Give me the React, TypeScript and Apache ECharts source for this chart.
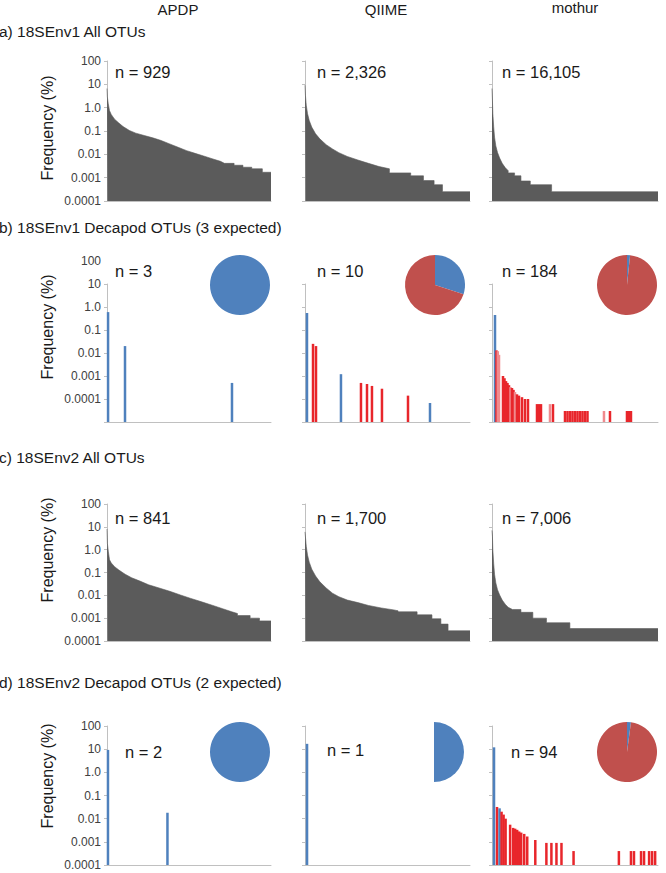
import { useEffect, useRef } from 'react';
import * as echarts from 'echarts';

// ---------------- data ----------------
const columnTitles = ['APDP', 'QIIME', 'mothur'];
const panelTitles = [
  'a) 18SEnv1 All OTUs',
  'b) 18SEnv1 Decapod OTUs (3 expected)',
  'c) 18SEnv2 All OTUs',
  'd) 18SEnv2 Decapod OTUs (2 expected)',
];
const yAxisTitle = 'Frequency (%)';
// tick labels for exponents -4 .. 2
const yTickLabels = ['0.0001', '0.001', '0.01', '0.1', '1.0', '10', '100'];

// total OTUs per pipeline (x extent = OTU rank)
const env1Totals = [929, 2326, 16105];
const env2Totals = [841, 1700, 7006];
// decapod OTU counts
const env1DecapodCounts = [3, 10, 184];
const env2DecapodCounts = [2, 1, 94];

// a) 18SEnv1 all OTUs, rank-abundance (rank, frequency %)
const aApdpRank = [0, 2, 7, 14, 24, 43, 67, 91, 127, 163, 211, 259, 307, 355, 403, 451, 499, 547, 595, 643, 665, 720, 720, 770, 770, 820, 820, 880, 880, 929];
const aApdpFreq = [6.6, 2.9, 1.5, 0.76, 0.51, 0.32, 0.22, 0.155, 0.105, 0.081, 0.064, 0.051, 0.039, 0.028, 0.02, 0.0144, 0.011, 0.0085, 0.0065, 0.005, 0.0041, 0.0041, 0.0034, 0.0034, 0.0028, 0.0028, 0.0024, 0.0024, 0.0017, 0.0017];
const aQiimeRank = [0, 6, 18, 36, 60, 95, 149, 209, 298, 388, 477, 596, 745, 895, 1044, 1190, 1190, 1490, 1490, 1670, 1670, 1820, 1820, 1938, 1938, 2326];
const aQiimeFreq = [9.2, 3.4, 1.26, 0.55, 0.28, 0.147, 0.076, 0.046, 0.026, 0.017, 0.0118, 0.0081, 0.0057, 0.0041, 0.003, 0.0024, 0.0016, 0.0016, 0.0012, 0.0012, 0.00075, 0.00075, 0.0005, 0.0005, 0.00025, 0.00025];
const aMothurRank = [0, 41, 83, 165, 248, 372, 537, 743, 991, 1280, 1569, 1569, 2189, 2189, 2808, 2808, 3717, 3717, 5782, 5782, 16105];
const aMothurFreq = [6.6, 2.1, 0.55, 0.15, 0.054, 0.023, 0.012, 0.0069, 0.0041, 0.0027, 0.002, 0.0016, 0.0016, 0.0012, 0.0012, 0.00072, 0.00072, 0.0005, 0.0005, 0.00025, 0.00025];

// c) 18SEnv2 all OTUs
const cApdpRank = [0, 2, 7, 13, 22, 39, 61, 93, 126, 169, 213, 267, 322, 376, 430, 485, 539, 593, 640, 669, 669, 734, 734, 782, 782, 841];
const cApdpFreq = [8, 1.9, 0.81, 0.36, 0.26, 0.18, 0.128, 0.084, 0.059, 0.042, 0.029, 0.021, 0.015, 0.0104, 0.0073, 0.0052, 0.0037, 0.0026, 0.0019, 0.0016, 0.0013, 0.0013, 0.001, 0.001, 0.00076, 0.00076];
const cQiimeRank = [0, 4, 13, 26, 44, 70, 109, 153, 218, 283, 349, 436, 545, 654, 785, 916, 959, 959, 1155, 1155, 1308, 1308, 1400, 1400, 1474, 1474, 1700];
const cQiimeFreq = [6, 3.9, 1.4, 0.58, 0.28, 0.14, 0.07, 0.039, 0.021, 0.0124, 0.0087, 0.0062, 0.0048, 0.0036, 0.0028, 0.0023, 0.0021, 0.0019, 0.0019, 0.0014, 0.0014, 0.00094, 0.00094, 0.00055, 0.00055, 0.00028, 0.00028];
const cMothurRank = [0, 18, 36, 72, 108, 162, 233, 323, 431, 557, 682, 862, 1221, 1221, 1724, 1724, 2299, 2299, 3287, 3287, 7006];
const cMothurFreq = [7, 3.9, 0.95, 0.24, 0.083, 0.035, 0.0175, 0.0104, 0.0062, 0.0041, 0.003, 0.0024, 0.0024, 0.0018, 0.0018, 0.001, 0.001, 0.00063, 0.00063, 0.00035, 0.00035];

// b) 18SEnv1 decapod OTUs: rank among all OTUs, frequency %, class (0 expected/blue, 1 other/red, 2 other/pale)
const bApdpRank = [6, 102, 708];
const bApdpFreq = [0.6, 0.02, 0.0005];
const bApdpClass = [0, 0, 0];
const bQiimeRank = [28, 113, 155, 507, 789, 874, 944, 1085, 1452, 1762];
const bQiimeFreq = [0.55, 0.025, 0.02, 0.0012, 0.0005, 0.00045, 0.00037, 0.00028, 0.00014, 0.000067];
const bQiimeClass = [0, 1, 1, 0, 1, 1, 1, 1, 1, 0];
const bMothurRank = [291, 437, 563, 679, 1067, 1213, 1358, 1504, 1649, 1795, 1940, 2086, 2231, 2425, 2619, 2910, 3201, 3492, 4365, 4559, 4753, 5626, 5917, 7081, 7324, 7566, 7809, 8051, 8294, 8536, 8779, 9021, 9264, 10864, 11446, 13095, 13289, 13483];
const bMothurFreq = [0.45, 0.013, 0.012, 0.0083, 0.001, 0.0008, 0.0006, 0.0005, 0.0004, 0.00033, 0.0003, 0.00025, 0.0002, 0.00016, 0.00014, 0.00012, 0.0001, 0.0001, 0.00006, 0.00006, 0.00006, 0.00006, 0.00006, 0.00003, 0.00003, 0.00003, 0.00003, 0.00003, 0.00003, 0.00003, 0.00003, 0.00003, 0.00003, 0.00003, 0.00003, 0.00003, 0.00003, 0.00003];
const bMothurClass = [0, 1, 2, 2, 1, 1, 1, 1, 1, 2, 1, 1, 2, 1, 1, 1, 1, 1, 1, 1, 1, 2, 1, 1, 1, 1, 1, 1, 1, 1, 1, 1, 1, 2, 1, 1, 1, 1];

// d) 18SEnv2 decapod OTUs
const dApdpRank = [5, 310];
const dApdpFreq = [9.3, 0.018];
const dApdpClass = [0, 0];
const dQiimeRank = [21];
const dQiimeFreq = [17];
const dQiimeClass = [0];
const dMothurRank = [85, 212, 319, 404, 489, 574, 765, 892, 977, 1062, 1147, 1232, 1360, 1487, 1827, 2295, 2507, 2720, 2932, 3442, 5355, 5865, 5992, 6290, 6417, 6630, 6757, 6885];
const dMothurFreq = [12, 0.032, 0.028, 0.02, 0.015, 0.01, 0.0055, 0.004, 0.0037, 0.0033, 0.0028, 0.0025, 0.0022, 0.0017, 0.0012, 0.0009, 0.0009, 0.0009, 0.0009, 0.0004, 0.0004, 0.0004, 0.0004, 0.0004, 0.0004, 0.0004, 0.0004, 0.0004];
const dMothurClass = [0, 1, 0, 1, 1, 1, 1, 1, 1, 1, 1, 1, 1, 1, 1, 1, 1, 1, 1, 1, 1, 1, 1, 1, 1, 1, 1, 1];

// pies: expected (blue) vs other (red) decapod OTUs
const bPieExpected = [3, 3, 3];
const bPieOther = [0, 7, 181];
const dPieExpected = [2, 1, 2];
const dPieOther = [0, 0, 92];

// ---------------- styling / layout ----------------
const FONT = '"Liberation Sans", Arial, Helvetica, sans-serif';
const GREY = '#5b5b5b';
const BLUE = '#4f81bd';
const PIE_RED = '#c0504d';
const BAR_COLORS = ['#4f81bd', '#e8262b', '#f08a8e'];
const AXIS = '#c0c0c0';
const TEXT = '#1a1a1a';

const cols = [
  { left: 107, width: 164 },
  { left: 305, width: 165 },
  { left: 492, width: 166 },
];
const rows = [
  { top: 61, height: 140, min: 1e-4 },
  { top: 261, height: 161, min: 1e-5 },
  { top: 504, height: 137, min: 1e-4 },
  { top: 726, height: 139, min: 1e-4 },
];

function zip(r: number[], f: number[], c?: number[]) {
  return r.map((x, i) => (c ? [x, f[i], c[i]] : [x, f[i]]));
}

function tickFormatter(v: number) {
  const i = Math.round(Math.log10(v)) + 4;
  return i >= 0 && i < yTickLabels.length ? yTickLabels[i] : '';
}

function buildOption() {
  const grid: any[] = [];
  const xAxis: any[] = [];
  const yAxis: any[] = [];
  const series: any[] = [];
  const graphic: any[] = [];

  const curves = [
    [zip(aApdpRank, aApdpFreq), zip(aQiimeRank, aQiimeFreq), zip(aMothurRank, aMothurFreq)],
    null,
    [zip(cApdpRank, cApdpFreq), zip(cQiimeRank, cQiimeFreq), zip(cMothurRank, cMothurFreq)],
    null,
  ];
  const bars = [
    null,
    [zip(bApdpRank, bApdpFreq, bApdpClass), zip(bQiimeRank, bQiimeFreq, bQiimeClass), zip(bMothurRank, bMothurFreq, bMothurClass)],
    null,
    [zip(dApdpRank, dApdpFreq, dApdpClass), zip(dQiimeRank, dQiimeFreq, dQiimeClass), zip(dMothurRank, dMothurFreq, dMothurClass)],
  ];
  const totals = [env1Totals, env1Totals, env2Totals, env2Totals];

  rows.forEach((row, ri) => {
    cols.forEach((col, ci) => {
      const gi = grid.length;
      grid.push({ left: col.left, top: row.top, width: col.width, height: row.height, outerBoundsMode: 'none' });
      xAxis.push({
        type: 'value', gridIndex: gi, min: 0, max: totals[ri][ci],
        axisLine: { show: true, onZero: false, lineStyle: { color: AXIS, width: 1 } },
        axisTick: { show: false }, axisLabel: { show: false }, splitLine: { show: false },
      });
      yAxis.push({
        type: 'log', logBase: 10, gridIndex: gi, min: row.min, max: 100, interval: 1,
        axisLine: { show: ri !== 1, lineStyle: { color: AXIS, width: 1 } },
        axisTick: { show: ri !== 1, length: 3, lineStyle: { color: AXIS } },
        axisLabel: {
          show: ci === 0, formatter: tickFormatter, fontSize: 12, fontFamily: FONT,
          color: '#404040', margin: 6,
        },
        splitLine: { show: false },
      });
      const c = curves[ri];
      if (c) {
        series.push({
          type: 'line', xAxisIndex: gi, yAxisIndex: gi, data: c[ci], symbol: 'none', silent: true,
          lineStyle: { color: GREY, width: 0.6 },
          areaStyle: { color: GREY, opacity: 1, origin: 'start' },
        });
      }
      const b = bars[ri];
      if (b) {
        const yMin = row.min;
        series.push({
          type: 'custom', xAxisIndex: gi, yAxisIndex: gi, data: b[ci], silent: true,
          encode: { x: 0, y: 1 },
          renderItem: (_p: any, api: any) => {
            const x = api.value(0);
            const top = api.coord([x, api.value(1)]);
            const base = api.coord([x, yMin]);
            return {
              type: 'rect',
              shape: { x: top[0] - 1.25, y: top[1], width: 2.5, height: base[1] - top[1] },
              style: { fill: BAR_COLORS[api.value(2)] },
            };
          },
        });
      }
    });
  });

  // row b: the value axis line runs from 1e-5 up to 10 only
  cols.forEach((col) => {
    const gi = grid.length;
    const r = rows[1];
    const dec = r.height / 7;
    grid.push({ left: col.left, top: r.top + dec, width: col.width, height: r.height - dec, outerBoundsMode: 'none' });
    xAxis.push({ type: 'value', gridIndex: gi, min: 0, max: 1, show: false });
    yAxis.push({
      type: 'log', logBase: 10, gridIndex: gi, min: 1e-5, max: 10, interval: 1,
      axisLine: { show: true, lineStyle: { color: AXIS, width: 1 } },
      axisTick: { show: true, length: 3, lineStyle: { color: AXIS } },
      axisLabel: { show: false }, splitLine: { show: false },
    });
  });

  // pies
  const pieRows = [
    { y: 285, expected: bPieExpected, other: bPieOther },
    { y: 752, expected: dPieExpected, other: dPieOther },
  ];
  const pieX = [240, 435, 627];
  pieRows.forEach((pr, pri) => {
    pieX.forEach((px, ci) => {
      const half = pri === 1 && ci === 1;
      series.push({
        type: 'pie', center: [half ? 434 : px, pr.y], radius: 30, startAngle: 90,
        endAngle: half ? -90 : 'auto', clockwise: true, silent: true,
        label: { show: false }, labelLine: { show: false },
        itemStyle: { borderWidth: 0 },
        data: [
          { name: 'expected', value: pr.expected[ci], itemStyle: { color: BLUE } },
          { name: 'other', value: pr.other[ci], itemStyle: { color: PIE_RED } },
        ],
      });
    });
  });

  // texts
  const colTitlePos = [[178, 9], [386, 9], [575, 7]];
  columnTitles.forEach((t, i) => {
    graphic.push({
      type: 'text', x: colTitlePos[i][0], y: colTitlePos[i][1],
      style: { text: t, fill: TEXT, fontSize: 15, fontFamily: FONT, align: 'center', verticalAlign: 'middle', textAlign: 'center', textVerticalAlign: 'middle' },
    });
  });
  const panelTitleY = [31.5, 227, 457, 682.5];
  panelTitles.forEach((t, i) => {
    graphic.push({
      type: 'text', x: -1, y: panelTitleY[i],
      style: { text: t, fill: TEXT, fontSize: 15.5, fontFamily: FONT, align: 'left', verticalAlign: 'middle', textAlign: 'left', textVerticalAlign: 'middle' },
    });
  });
  const freqY = [128, 327, 550, 776];
  freqY.forEach((y) => {
    graphic.push({
      type: 'text', x: 47, y, rotation: Math.PI / 2,
      style: { text: yAxisTitle, fill: TEXT, fontSize: 16, fontFamily: FONT, align: 'center', verticalAlign: 'middle', textAlign: 'center', textVerticalAlign: 'middle' },
    });
  });
  const nCounts = [env1Totals, env1DecapodCounts, env2Totals, env2DecapodCounts];
  const nPos = [
    [[115, 72], [317, 72], [502, 72]],
    [[115, 271], [317, 271], [502, 271]],
    [[115, 517.5], [317, 517.5], [502, 517.5]],
    [[125, 752], [327, 750], [511, 752]],
  ];
  nCounts.forEach((arr, ri) => {
    arr.forEach((n, ci) => {
      graphic.push({
        type: 'text', x: nPos[ri][ci][0], y: nPos[ri][ci][1],
        style: { text: 'n = ' + n.toLocaleString('en-US'), fill: TEXT, fontSize: 16.5, fontFamily: FONT, align: 'left', verticalAlign: 'middle', textAlign: 'left', textVerticalAlign: 'middle' },
      });
    });
  });

  return { animation: false, backgroundColor: '#ffffff', grid, xAxis, yAxis, series, graphic };
}

export default function App() {
  const ref = useRef<HTMLDivElement>(null);
  useEffect(() => {
    const chart = echarts.init(ref.current!, null, { renderer: 'svg', width: 666, height: 873 });
    chart.setOption(buildOption() as any);
    return () => chart.dispose();
  }, []);
  return <div ref={ref} style={{ position: 'absolute', left: 0, top: 0, width: 666, height: 873 }} />;
}
